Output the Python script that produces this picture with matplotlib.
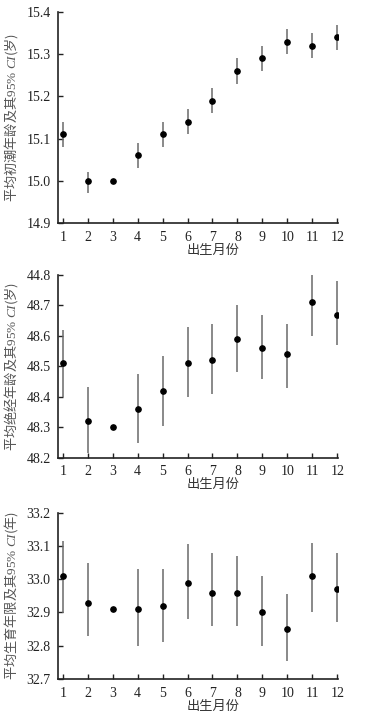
import numpy as np
import matplotlib
matplotlib.use("Agg")
import matplotlib.pyplot as plt

plt.rcParams['mathtext.fontset'] = 'custom'
plt.rcParams['mathtext.rm'] = 'Liberation Serif'
plt.rcParams['mathtext.it'] = 'Liberation Serif:italic'

months = list(range(1, 13))
xlabel_text = "出生月份"

# Panel 1: menarche age
menarche_mean = [15.11, 15.00, 15.00, 15.06, 15.11, 15.14, 15.19, 15.26, 15.29, 15.33, 15.32, 15.34]
menarche_low = [15.08, 14.97, 15.00, 15.03, 15.08, 15.11, 15.16, 15.23, 15.26, 15.30, 15.29, 15.31]
menarche_high = [15.14, 15.02, 15.00, 15.09, 15.14, 15.17, 15.22, 15.29, 15.32, 15.36, 15.35, 15.37]
menarche_ticks = [14.9, 15.0, 15.1, 15.2, 15.3, 15.4]
menarche_ticklabels = ["14.9", "15.0", "15.1", "15.2", "15.3", "15.4"]

# Panel 2: menopause age
menopause_mean = [48.51, 48.32, 48.30, 48.36, 48.42, 48.51, 48.52, 48.59, 48.56, 48.54, 48.71, 48.67]
menopause_low = [48.40, 48.217, 48.30, 48.247, 48.305, 48.40, 48.41, 48.48, 48.46, 48.43, 48.60, 48.57]
menopause_high = [48.62, 48.433, 48.30, 48.474, 48.533, 48.63, 48.64, 48.70, 48.67, 48.64, 48.818, 48.78]
menopause_ticks = [48.2, 48.3, 48.4, 48.5, 48.6, 48.7, 48.8]
menopause_ticklabels = ["48.2", "48.3", "48.4", "48.5", "48.6", "48.7", "44.8"]

# Panel 3: reproductive span
span_mean = [33.01, 32.93, 32.91, 32.91, 32.92, 32.99, 32.96, 32.96, 32.90, 32.85, 33.01, 32.97]
span_low = [32.897, 32.83, 32.91, 32.80, 32.81, 32.88, 32.86, 32.86, 32.80, 32.755, 32.90, 32.87]
span_high = [33.115, 33.05, 32.91, 33.03, 33.03, 33.106, 33.08, 33.07, 33.01, 32.955, 33.11, 33.08]
span_ticks = [32.7, 32.8, 32.9, 33.0, 33.1, 33.2]
span_ticklabels = ["32.7", "32.8", "32.9", "33.0", "33.1", "33.2"]

ylabels = [
    "平均初潮年龄及其$\\mathrm{95\\%}\\ \\mathit{CI}$(岁)",
    "平均绝经年龄及其$\\mathrm{95\\%}\\ \\mathit{CI}$(岁)",
    "平均生育年限及其$\\mathrm{95\\%}\\ \\mathit{CI}$(年)",
]

W, H = 370, 712
fig = plt.figure(figsize=(W / 100, H / 100), dpi=100)
fig.patch.set_facecolor('white')

left_px, right_px = 58.3, 338.0
rects_px = [(12.0, 223.0), (275.0, 457.7), (512.7, 679.0)]

panels = [
    (menarche_mean, menarche_low, menarche_high, menarche_ticks, menarche_ticklabels),
    (menopause_mean, menopause_low, menopause_high, menopause_ticks, menopause_ticklabels),
    (span_mean, span_low, span_high, span_ticks, span_ticklabels),
]

serif = 'Liberation Serif'
cjk = 'Noto Sans CJK SC'

for i, ((mean, low, high, ticks, tlabels), (top, bot)) in enumerate(zip(panels, rects_px)):
    ax = fig.add_axes([left_px / W, 1 - bot / H, (right_px - left_px) / W, (bot - top) / H])
    ax.set_facecolor('white')
    ax.vlines(months, low, high, colors='#6a6a6a', linewidth=1.1, zorder=2)
    ax.plot(months, mean, 'o', color='black', markersize=3.8, zorder=3)
    ax.set_xlim(0.82, 12.03)
    ax.set_ylim(ticks[0], ticks[-1])
    ax.set_xticks(months)
    ax.set_xticklabels([str(m) for m in months], fontfamily=serif, fontsize=10, color='#222222')
    ax.set_yticks(ticks)
    ax.set_yticklabels(tlabels, fontfamily=serif, fontsize=10, color='#222222')
    for s in ['top', 'right']:
        ax.spines[s].set_visible(False)
    for s in ['left', 'bottom']:
        ax.spines[s].set_color('#222222')
        ax.spines[s].set_linewidth(1.2)
    ax.tick_params(axis='both', direction='in', length=3.5, width=1.0, color='#222222')
    ax.tick_params(axis='x', pad=5.5)
    ax.tick_params(axis='y', pad=5.5)
    ax.set_xlabel(xlabel_text, fontfamily=cjk, fontsize=9.5, color='#333333')
    ax.xaxis.set_label_coords((213 - left_px) / (right_px - left_px), -27 / (bot - top))
    ax.xaxis.label.set_verticalalignment('center')
    ax.set_ylabel(ylabels[i], fontfamily=cjk, fontsize=9.5, color='#555555')
    ax.yaxis.set_label_coords((20 - left_px) / (right_px - left_px), 0.5)

fig.savefig('out.png', dpi=100, facecolor='white')
